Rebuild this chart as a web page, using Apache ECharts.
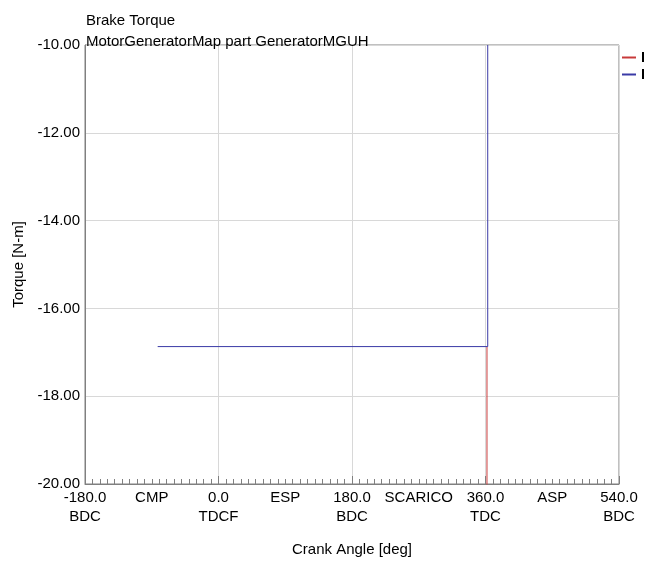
<!DOCTYPE html>
<html>
<head>
<meta charset="utf-8">
<script src="https://cdn.jsdelivr.net/npm/echarts@6/dist/echarts.min.js"></script>
<style>
  html, body { margin: 0; padding: 0; background: #fff; }
  #chart { width: 656px; height: 562px; }
</style>
</head>
<body>
<div id="chart"></div>
<script>
// Crank-angle tick positions and their two-line labels
const angleTicks = [-180, -90, 0, 90, 180, 270, 360, 450, 540];
const angleLabels = ['-180.0\nBDC', 'CMP', '0.0\nTDCF', 'ESP', '180.0\nBDC', 'SCARICO', '360.0\nTDC', 'ASP', '540.0\nBDC'];

// Series traces: [crank angle deg, torque N-m]
const seriesNames = ['Brake Torque 1', 'Brake Torque 2'];
const redAngle = [362, 362];
const redTorque = [-22, -16.87];
const blueAngle = [-82, 363, 363];
const blueTorque = [-16.87, -16.87, -10];

const zip = (a, b) => a.map((v, i) => [v, b[i]]);

const font = 'Liberation Sans, Arial, sans-serif';
const fs = 15;
const chart = echarts.init(document.getElementById('chart'), null, { renderer: 'canvas' });

chart.setOption({
  animation: false,
  textStyle: { fontFamily: font },
  title: {
    text: 'Brake Torque\nMotorGeneratorMap part GeneratorMGUH',
    left: 86, top: 10,
    padding: 0,
    textStyle: { fontSize: fs, fontWeight: 'normal', color: '#000', fontFamily: font, lineHeight: 21 }
  },
  legend: {
    orient: 'vertical',
    left: 622, top: 50,
    padding: 0,
    itemWidth: 14, itemHeight: 2, itemGap: 2,
    icon: 'rect',
    textStyle: { fontSize: fs, color: '#000', fontFamily: font, fontWeight: 'bold' },
    data: seriesNames
  },
  // the legend text runs off the right edge of the panel
  graphic: [{
    type: 'rect', right: 0, top: 40,
    shape: { width: 12, height: 50 },
    style: { fill: '#fff' },
    z: 100
  }],
  grid: {
    left: 85, right: 37, top: 45, bottom: 72,
    show: true, borderColor: '#808080', borderWidth: 1,
    containLabel: false
  },
  xAxis: [
    {
      type: 'value',
      min: -180, max: 540, interval: 90,
      name: 'Crank Angle [deg]',
      nameLocation: 'middle', nameGap: 58,
      nameTextStyle: { fontSize: fs, color: '#000', fontFamily: font },
      axisLine: { show: true, onZero: false, lineStyle: { color: '#808080' } },
      axisTick: { show: true, inside: true, length: 5, lineStyle: { color: '#808080' } },
      minorTick: { show: true, splitNumber: 9, length: 5, lineStyle: { color: '#808080' } },
      axisLabel: {
        fontSize: fs, color: '#000', fontFamily: font, lineHeight: 19, margin: 4,
        formatter: v => {
          const i = angleTicks.indexOf(v);
          return i >= 0 ? angleLabels[i] : '';
        }
      },
      splitLine: { show: false }
    },
    {
      // Grid lines and longer ticks every 180 deg
      type: 'value',
      position: 'bottom',
      min: -180, max: 540, interval: 180,
      axisLine: { show: false, onZero: false },
      axisTick: { show: true, inside: true, length: 8, lineStyle: { color: '#808080' } },
      axisLabel: { show: false },
      splitLine: { show: true, lineStyle: { color: '#d8d8d8' } }
    }
  ],
  yAxis: {
    type: 'value',
    min: -20, max: -10, interval: 2,
    name: 'Torque [N-m]',
    nameLocation: 'middle', nameGap: 58,
    nameTextStyle: { fontSize: fs, color: '#000', fontFamily: font },
    axisLine: { show: true, onZero: false, lineStyle: { color: '#808080' } },
    axisTick: { show: false },
    axisLabel: {
      fontSize: fs, color: '#000', fontFamily: font, margin: 5,
      formatter: v => v.toFixed(2)
    },
    splitLine: { show: true, lineStyle: { color: '#d8d8d8' } }
  },
  series: [
    {
      name: seriesNames[0], type: 'line', data: zip(redAngle, redTorque),
      xAxisIndex: 0,
      showSymbol: false, symbol: 'none', clip: true,
      lineStyle: { color: '#c83a3a', width: 1 }, itemStyle: { color: '#c83a3a' }
    },
    {
      name: seriesNames[1], type: 'line', data: zip(blueAngle, blueTorque),
      xAxisIndex: 0,
      showSymbol: false, symbol: 'none', clip: true,
      lineStyle: { color: '#3a3aa6', width: 1 }, itemStyle: { color: '#3a3aa6' }
    }
  ]
});
</script>
</body>
</html>
